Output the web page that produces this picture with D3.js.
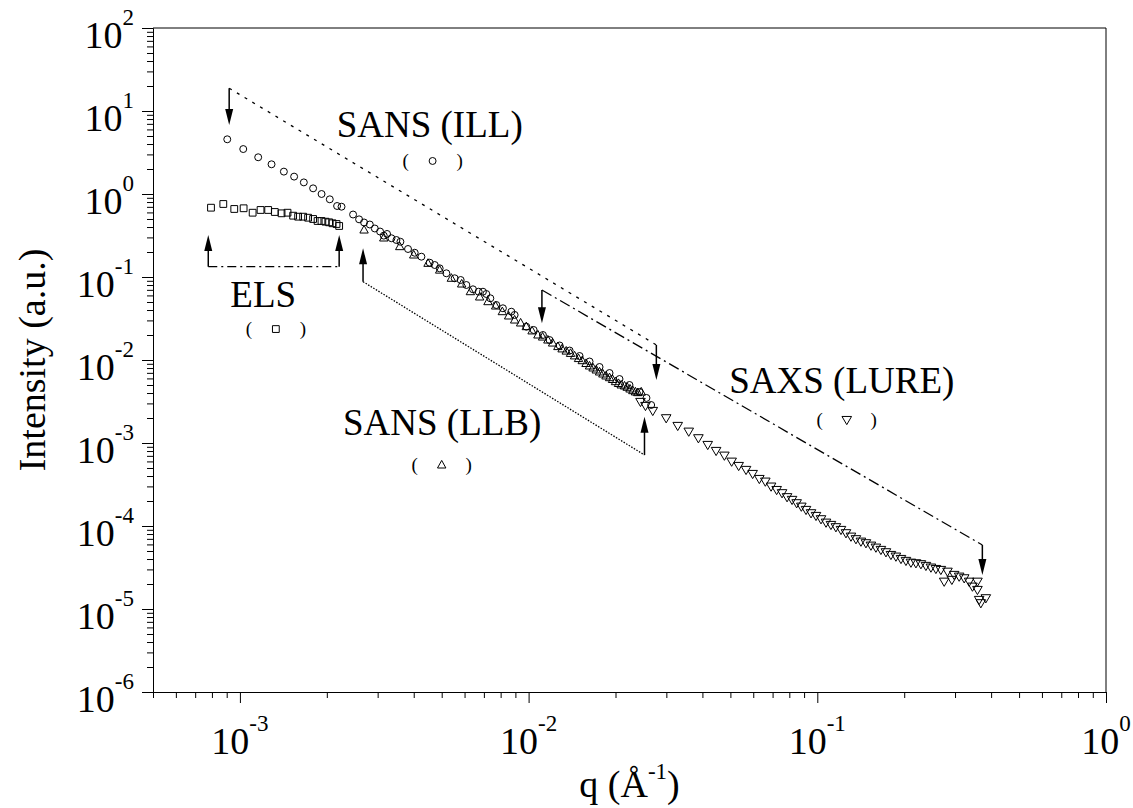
<!DOCTYPE html>
<html>
<head>
<meta charset="utf-8">
<script src="https://cdn.jsdelivr.net/npm/d3@7"></script>
<style>
  body { margin: 0; background: #fff; }
  text { font-family: "Liberation Serif", "Times New Roman", serif; fill: #000; }
</style>
</head>
<body>
<div id="my_dataviz"></div>
<script>
// ---- data (q in 1/A, intensity in a.u.) ----
var elsQ = [7.94e-4, 8.76e-4, 9.56e-4, 1.030e-3, 1.107e-3, 1.179e-3, 1.253e-3, 1.321e-3, 1.394e-3, 1.462e-3, 1.529e-3,
            1.591e-3, 1.656e-3, 1.723e-3, 1.793e-3, 1.858e-3, 1.917e-3, 1.979e-3, 2.037e-3, 2.093e-3, 2.161e-3, 2.207e-3];
var elsI = [0.684, 0.758, 0.660, 0.673, 0.595, 0.642, 0.642, 0.607, 0.585, 0.595, 0.548,
            0.533, 0.533, 0.518, 0.500, 0.473, 0.473, 0.464, 0.456, 0.444, 0.435, 0.412];

var illQ = [9.04e-4, 1.027e-3, 1.157e-3, 1.287e-3, 1.420e-3, 1.541e-3, 1.665e-3, 1.793e-3, 1.918e-3, 2.048e-3,
            2.171e-3, 2.249e-3, 2.466e-3, 2.587e-3, 2.692e-3, 2.818e-3, 2.933e-3, 3.059e-3, 3.150e-3, 3.234e-3,
            3.349e-3, 3.485e-3, 3.597e-3, 3.822e-3, 4.032e-3, 4.253e-3, 4.544e-3, 4.729e-3, 4.920e-3, 5.190e-3,
            5.545e-3, 5.817e-3, 6.087e-3, 6.416e-3, 6.714e-3, 6.948e-3, 7.138e-3, 7.370e-3, 7.730e-3, 8.148e-3,
            8.713e-3, 8.946e-3, 9.818e-3, 1.041e-2, 1.121e-2, 1.182e-2, 1.281e-2, 1.387e-2, 1.502e-2, 1.626e-2,
            1.761e-2, 1.907e-2, 2.065e-2, 2.236e-2, 2.422e-2, 2.560e-2, 2.658e-2];
var illI = [4.56, 3.48, 2.77, 2.28, 1.86, 1.62, 1.38, 1.17, 1.00, 0.863,
            0.717, 0.703, 0.566, 0.495, 0.454, 0.429, 0.384, 0.353, 0.315, 0.330,
            0.293, 0.279, 0.266, 0.2175, 0.196, 0.1757, 0.1487, 0.1395, 0.1273, 0.1108,
            0.0965, 0.092, 0.0801, 0.0711, 0.0665, 0.0665, 0.0624, 0.0554, 0.046, 0.042,
            0.0382, 0.0349, 0.0252, 0.0230, 0.0200, 0.0174, 0.01496, 0.0130, 0.01117, 9.59e-3,
            8.24e-3, 6.97e-3, 5.90e-3, 5.00e-3, 4.12e-3, 3.49e-3, 2.87e-3];

var llbQ = [2.692e-3, 3.150e-3, 3.578e-3, 4.000e-3, 4.484e-3, 4.920e-3, 5.401e-3, 5.864e-3, 6.285e-3, 6.767e-3,
            7.232e-3, 7.688e-3, 8.110e-3, 8.527e-3, 8.946e-3, 9.383e-3, 9.818e-3, 1.028e-2, 1.077e-2, 1.118e-2,
            1.166e-2, 1.211e-2, 1.263e-2, 1.306e-2, 1.350e-2, 1.397e-2, 1.443e-2, 1.489e-2, 1.534e-2, 1.581e-2,
            1.626e-2, 1.672e-2, 1.715e-2, 1.761e-2, 1.808e-2, 1.854e-2, 1.907e-2, 1.953e-2, 2.000e-2, 2.048e-2,
            2.093e-2, 2.149e-2, 2.195e-2, 2.245e-2, 2.296e-2, 2.345e-2, 2.389e-2, 2.455e-2];
var llbI = [0.368, 0.295, 0.232, 0.184, 0.146, 0.121, 0.0965, 0.0823, 0.0665, 0.0574,
            0.0504, 0.0447, 0.0382, 0.0339, 0.0303, 0.0279, 0.0252, 0.0224, 0.0200, 0.0189,
            0.0174, 0.0160, 0.0145, 0.0136, 0.0128, 0.0120, 0.0112, 0.0104, 9.81e-3, 9.07e-3,
            8.47e-3, 8.01e-3, 7.58e-3, 7.17e-3, 6.78e-3, 6.42e-3, 6.12e-3, 5.82e-3, 5.48e-3, 5.21e-3,
            5.00e-3, 4.86e-3, 4.69e-3, 4.47e-3, 4.27e-3, 4.12e-3, 4.04e-3, 4.12e-3];

var saxsQ = [2.441e-2, 2.540e-2, 2.692e-2, 2.996e-2, 3.285e-2, 3.587e-2, 3.874e-2, 4.173e-2, 4.461e-2, 4.766e-2,
             5.051e-2, 5.341e-2, 5.665e-2, 5.971e-2, 6.298e-2, 6.606e-2, 6.916e-2, 7.231e-2, 7.549e-2, 7.856e-2,
             8.176e-2, 8.481e-2, 8.804e-2, 9.140e-2, 9.511e-2, 9.897e-2, 0.1030, 0.1072, 0.1115, 0.1160,
             0.1208, 0.1257, 0.1308, 0.1361, 0.1416, 0.1474, 0.1534, 0.1596, 0.1661, 0.1729,
             0.1799, 0.1872, 0.1949, 0.2028, 0.2110, 0.2196, 0.2285, 0.2378, 0.2475, 0.2575,
             0.2679, 0.2751, 0.2824, 0.2925, 0.2979, 0.3100, 0.3227, 0.3357, 0.3447, 0.3587,
             0.3587, 0.3636, 0.3685, 0.3835];
var saxsI = [3.12e-3, 2.79e-3, 2.43e-3, 1.984e-3, 1.603e-3, 1.368e-3, 1.139e-3, 9.46e-4, 8.01e-4, 7.03e-4,
             5.95e-4, 5.28e-4, 4.73e-4, 4.23e-4, 3.68e-4, 3.42e-4, 2.98e-4, 2.71e-4, 2.48e-4, 2.22e-4,
             2.06e-4, 1.877e-4, 1.708e-4, 1.559e-4, 1.422e-4, 1.320e-4, 1.204e-4, 1.096e-4, 1.028e-4, 9.65e-5,
             8.95e-5, 8.17e-5, 7.43e-5, 6.92e-5, 6.47e-5, 6.19e-5, 5.79e-5, 5.48e-5, 5.14e-5, 4.82e-5,
             4.47e-5, 4.27e-5, 4.00e-5, 3.79e-5, 3.61e-5, 3.55e-5, 3.46e-5, 3.30e-5, 3.15e-5, 3.03e-5,
             2.95e-5, 2.13e-5, 2.81e-5, 2.24e-5, 2.57e-5, 2.45e-5, 2.34e-5, 2.13e-5, 1.857e-5, 2.13e-5,
             1.694e-5, 1.284e-5, 1.172e-5, 1.345e-5];

// q-range brackets: start / end of each guide line
var rangeNames = ["ILL", "ELS", "LLB", "SAXS"];
var rangeQ1 = [9.18e-4, 7.77e-4, 2.67e-3, 0.01112];
var rangeI1 = [18.8, 0.133, 0.0878, 0.0697];
var rangeQ2 = [0.0277, 2.207e-3, 0.0252, 0.373];
var rangeI2 = [0.0152, 0.133, 7.17e-4, 5.9e-5];
// arrow tip intensities at both ends
var rangeTip1 = [6.78, 0.321, 0.222, 0.0277];
var rangeTip2 = [5.74e-3, 0.321, 2.07e-3, 2.57e-5];

// text labels and the marker keys under them
var labelText = ["SANS (ILL)", "ELS", "SANS (LLB)", "SAXS (LURE)"];
var labelQ = [4.544e-3, 1.204e-3, 5.02e-3, 0.1216];
var labelI = [4.9, 0.0439, 1.25e-3, 4.0e-3];
var keyQ = [4.65e-3, 1.332e-3, 5.0e-3, 0.1265];
var keyI = [2.5, 0.0236, 5.43e-4, 1.89e-3];
var keySymbol = ["circle", "square", "up", "down"];

// axis ticks (powers of ten)
var xTickExps = [-3, -2, -1, 0];
var yTickExps = [2, 1, 0, -1, -2, -3, -4, -5, -6];

// ---- layout ----
var margin = { top: 28, right: 27, bottom: 116, left: 153 },
    width = 1133 - margin.left - margin.right,
    height = 808 - margin.top - margin.bottom;

var svgRoot = d3.select("#my_dataviz")
    .append("svg")
    .attr("width", 1133)
    .attr("height", 808);
var svg = svgRoot.append("g")
    .attr("transform", "translate(" + margin.left + "," + margin.top + ")");

var x = d3.scaleLog().domain([5e-4, 1]).range([0, width]);
var y = d3.scaleLog().domain([1e-6, 1e2]).range([height, 0]);

function isPow10(d) {
    var l = Math.log10(d);
    return Math.abs(l - Math.round(l)) < 1e-6;
}
var xMajor = xTickExps.map(function (e) { return Math.pow(10, e); });
var yMajor = yTickExps.map(function (e) { return Math.pow(10, e); });
var xMinor = x.ticks().filter(function (d) { return !isPow10(d); });
var yMinor = y.ticks().filter(function (d) { return !isPow10(d); });

// frame (top and right lines, no ticks)
svg.append("path")
    .attr("d", "M0,0H" + width + "V" + height)
    .attr("fill", "none")
    .attr("stroke", "#000")
    .attr("stroke-width", 1);

// Add X axis: minor then major ticks
svg.append("g")
    .attr("transform", "translate(0," + height + ")")
    .call(d3.axisBottom(x).tickValues(xMinor).tickSize(6).tickSizeOuter(0).tickFormat(""));
svg.append("g")
    .attr("transform", "translate(0," + height + ")")
    .call(d3.axisBottom(x).tickValues(xMajor).tickSize(11).tickSizeOuter(0).tickFormat(""));

// Add Y axis
svg.append("g")
    .call(d3.axisLeft(y).tickValues(yMinor).tickSize(6).tickSizeOuter(0).tickFormat(""));
svg.append("g")
    .call(d3.axisLeft(y).tickValues(yMajor).tickSize(11).tickSizeOuter(0).tickFormat(""));

svg.selectAll(".domain, .tick line").attr("stroke", "#000").attr("stroke-width", 1);

// tick labels as 10 with a superscript exponent
function powLabel(sel) {
    sel.append("tspan").text("10");
    sel.append("tspan")
        .attr("dy", -23)
        .style("font-size", "23px")
        .text(function (d) { return d; });
}
svg.selectAll("xLabels")
    .data(xTickExps)
    .enter()
    .append("text")
    .attr("x", function (d) { return x(Math.pow(10, d)); })
    .attr("y", height + 62)
    .attr("text-anchor", "middle")
    .style("font-size", "38px")
    .call(powLabel);

svg.selectAll("yLabels")
    .data(yTickExps)
    .enter()
    .append("text")
    .attr("x", -19)
    .attr("y", function (d) { return y(Math.pow(10, d)) + 20; })
    .attr("text-anchor", "end")
    .style("font-size", "38px")
    .call(powLabel);

// axis titles
svgRoot.append("text")
    .attr("transform", "translate(45," + (margin.top + height / 2) + ") rotate(-90)")
    .attr("text-anchor", "middle")
    .style("font-size", "38px")
    .text("Intensity (a.u.)");

var xt = svgRoot.append("text")
    .attr("x", margin.left + width / 2)
    .attr("y", 797)
    .attr("text-anchor", "middle")
    .style("font-size", "38px");
xt.append("tspan").text("q (\u00c5");
xt.append("tspan").attr("dy", -18).style("font-size", "23px").text("-1");
xt.append("tspan").attr("dy", 18).text(")");

// marker shapes
var circlePath = d3.symbol().type(d3.symbolCircle).size(38)();
var squarePath = d3.symbol().type(d3.symbolSquare).size(46)();
var upPath = "M0,-4.6L4.2,3L-4.2,3Z";
var downPath = "M-4.8,-3.6L4.8,-3.6L0,4.6Z";
var shapes = { circle: circlePath, square: squarePath, up: upPath, down: downPath };

function zip(qs, is) {
    return qs.map(function (q, i) { return { q: q, v: is[i] }; });
}
var dataReady = [
    { name: "els", shape: "square", values: zip(elsQ, elsI) },
    { name: "ill", shape: "circle", values: zip(illQ, illI) },
    { name: "llb", shape: "up", values: zip(llbQ, llbI) },
    { name: "saxs", shape: "down", values: zip(saxsQ, saxsI) }
];

// Add the points
svg.selectAll("myDots")
    .data(dataReady)
    .enter()
    .append("g")
    .attr("class", function (d) { return d.name; })
    .each(function (grp) {
        d3.select(this).selectAll("path")
            .data(grp.values)
            .enter()
            .append("path")
            .attr("transform", function (d) { return "translate(" + x(d.q) + "," + y(d.v) + ")"; })
            .attr("d", shapes[grp.shape])
            .attr("fill", "none")
            .attr("stroke", "#000")
            .attr("stroke-width", 1);
    });

// q-range guide lines with arrows at both ends
var dashes = { ILL: "3,6", ELS: "9,4,2,4", LLB: "1.5,1.5", SAXS: "11,4,2,4" };
rangeNames.forEach(function (name, i) {
    var line = d3.line()
        .x(function (d) { return x(d[0]); })
        .y(function (d) { return y(d[1]); });
    svg.append("path")
        .attr("d", line([[rangeQ1[i], rangeI1[i]], [rangeQ2[i], rangeI2[i]]]))
        .attr("fill", "none")
        .attr("stroke", "#000")
        .attr("stroke-width", 1.3)
        .attr("stroke-dasharray", dashes[name]);

    [[rangeQ1[i], rangeI1[i], rangeTip1[i]], [rangeQ2[i], rangeI2[i], rangeTip2[i]]].forEach(function (a) {
        var ax = x(a[0]), y0 = y(a[1]), y1 = y(a[2]);
        var dir = y1 > y0 ? 1 : -1;
        svg.append("line")
            .attr("x1", ax).attr("x2", ax)
            .attr("y1", y0).attr("y2", y1 - dir * 12)
            .attr("stroke", "#000")
            .attr("stroke-width", 1.5);
        svg.append("path")
            .attr("d", "M" + ax + "," + y1 + "L" + (ax - 4) + "," + (y1 - dir * 16) +
                       "L" + (ax + 4) + "," + (y1 - dir * 16) + "Z")
            .attr("fill", "#000");
    });
});

// text labels
svg.selectAll("myLabels")
    .data(labelText)
    .enter()
    .append("text")
    .attr("x", function (d, i) { return x(labelQ[i]); })
    .attr("y", function (d, i) { return y(labelI[i]); })
    .attr("text-anchor", "middle")
    .style("font-size", "37px")
    .text(function (d) { return d; });

// marker keys: ( symbol )
var keys = svg.selectAll("myKeys")
    .data(keySymbol)
    .enter()
    .append("g")
    .attr("transform", function (d, i) { return "translate(" + x(keyQ[i]) + "," + y(keyI[i]) + ")"; });
keys.append("text").attr("x", -27).attr("dy", "0.33em").attr("text-anchor", "middle")
    .style("font-size", "19px").text("(");
keys.append("text").attr("x", 27).attr("dy", "0.33em").attr("text-anchor", "middle")
    .style("font-size", "19px").text(")");
keys.append("path")
    .attr("d", function (d) { return shapes[d]; })
    .attr("fill", "none")
    .attr("stroke", "#000")
    .attr("stroke-width", 1);
</script>
</body>
</html>
